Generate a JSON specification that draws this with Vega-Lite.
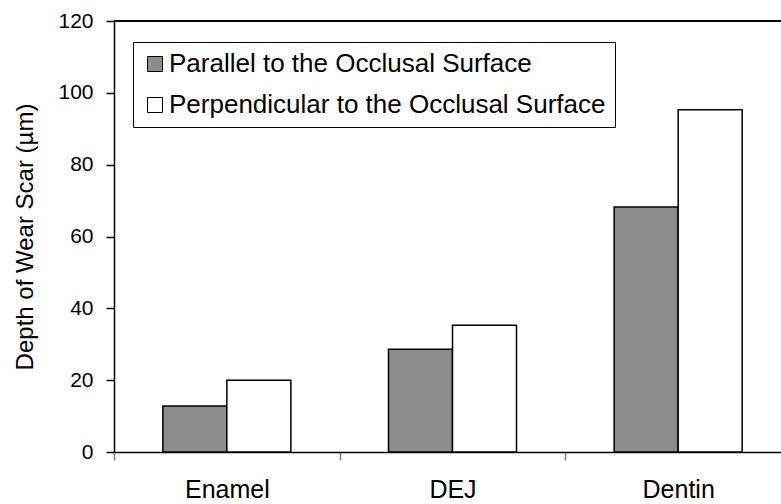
{
  "$schema": "https://vega.github.io/schema/vega-lite/v6.json",
  "width": 667,
  "height": 431,
  "autosize": {"type": "none"},
  "padding": {"left": 114, "top": 21, "right": 0, "bottom": 52},
  "background": "white",
  "config": {
    "view": {"stroke": null},
    "font": "Liberation Sans"
  },
  "data": {
    "values": [
      {"tissue": "Enamel", "orientation": "Parallel to the Occlusal Surface", "depth": 12.8},
      {"tissue": "Enamel", "orientation": "Perpendicular to the Occlusal Surface", "depth": 20.0},
      {"tissue": "DEJ", "orientation": "Parallel to the Occlusal Surface", "depth": 28.6},
      {"tissue": "DEJ", "orientation": "Perpendicular to the Occlusal Surface", "depth": 35.3},
      {"tissue": "Dentin", "orientation": "Parallel to the Occlusal Surface", "depth": 68.2},
      {"tissue": "Dentin", "orientation": "Perpendicular to the Occlusal Surface", "depth": 95.3}
    ]
  },
  "layer": [
    {
      "mark": {"type": "bar", "stroke": "black", "strokeWidth": 1.5},
      "encoding": {
        "x": {
          "field": "tissue",
          "type": "nominal",
          "sort": ["Enamel", "DEJ", "Dentin"],
          "scale": {"range": [0, 677], "paddingInner": 0, "paddingOuter": 0},
          "axis": {
            "title": null,
            "tickBand": "extent",
            "tickSize": 8,
            "tickColor": "#808080",
            "tickWidth": 1.5,
            "domainColor": "black",
            "domainWidth": 1.5,
            "labelFontSize": 25,
            "labelPadding": 17,
            "labelColor": "black",
            "labelAngle": 0
          }
        },
        "xOffset": {
          "field": "orientation",
          "sort": ["Parallel to the Occlusal Surface", "Perpendicular to the Occlusal Surface"],
          "scale": {"paddingInner": 0, "paddingOuter": 0.763}
        },
        "y": {
          "field": "depth",
          "type": "quantitative",
          "scale": {"domain": [0, 120], "nice": false},
          "axis": {
            "title": "Depth of Wear Scar (µm)",
            "titleFontSize": 24,
            "titleFontWeight": "normal",
            "titleColor": "black",
            "titlePadding": 20,
            "values": [0, 20, 40, 60, 80, 100, 120],
            "grid": false,
            "tickSize": 8,
            "tickColor": "black",
            "tickWidth": 1.5,
            "domainColor": "black",
            "domainWidth": 1.5,
            "labelFontSize": 21,
            "labelPadding": 13,
            "labelColor": "black"
          }
        },
        "fill": {
          "field": "orientation",
          "type": "nominal",
          "scale": {
            "domain": ["Parallel to the Occlusal Surface", "Perpendicular to the Occlusal Surface"],
            "range": ["#8c8c8c", "#ffffff"]
          },
          "legend": {
            "orient": "none",
            "legendX": 19,
            "legendY": 21,
            "title": null,
            "strokeColor": "black",
            "fillColor": "white",
            "padding": 9,
            "cornerRadius": 0,
            "labelFontSize": 26,
            "labelColor": "black",
            "labelLimit": 700,
            "labelOffset": 1,
            "symbolType": "square",
            "symbolSize": 225,
            "symbolStrokeColor": "black",
            "symbolStrokeWidth": 1,
            "symbolOpacity": 1,
            "symbolOffset": 0,
            "rowPadding": 15
          }
        }
      }
    },
    {
      "mark": {"type": "rule", "color": "black", "strokeWidth": 1.5},
      "encoding": {"y": {"datum": 120}}
    }
  ]
}
